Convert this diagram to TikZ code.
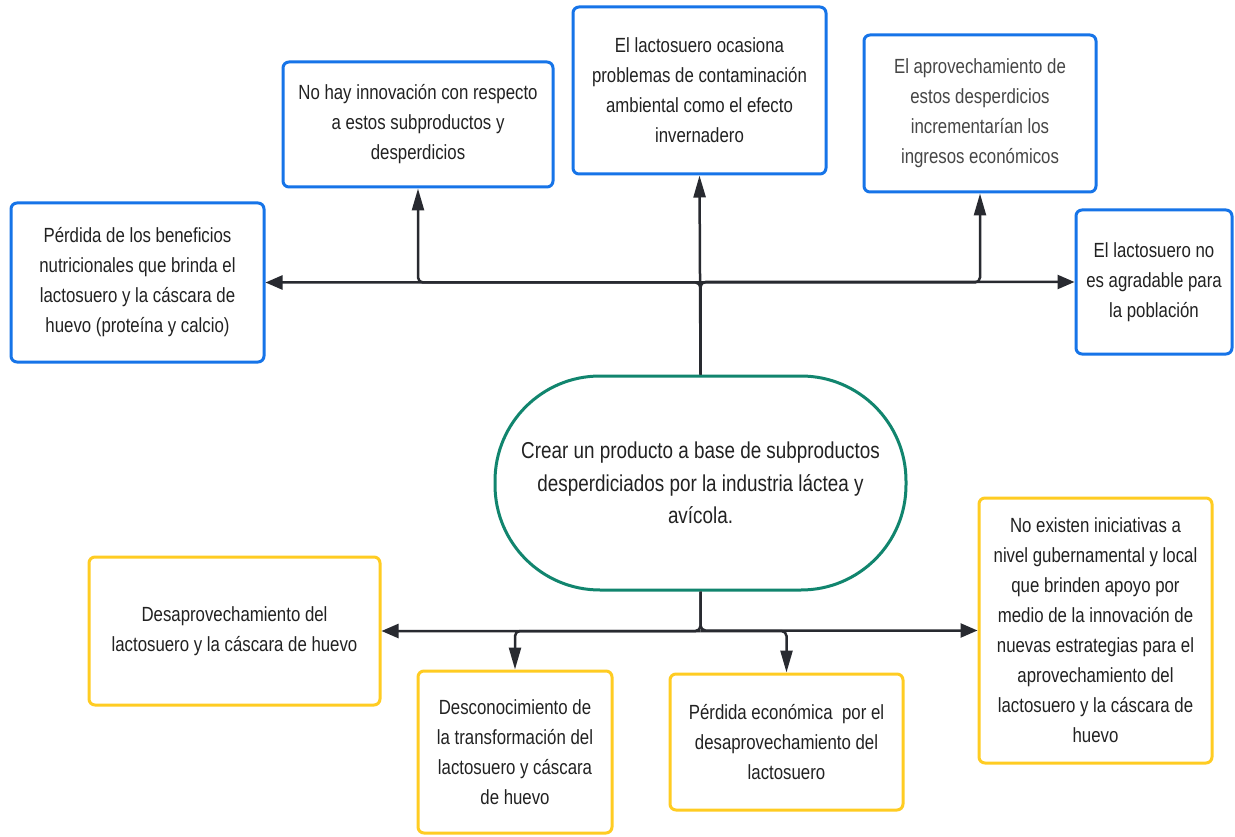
\documentclass[tikz,border=0pt]{standalone}
\usepackage{fontspec}
\setmainfont{Liberation Sans}[FakeStretch=0.82]
\usetikzlibrary{arrows.meta}
\definecolor{bluec}{RGB}{22,116,232}
\definecolor{yelc}{RGB}{255,204,34}
\definecolor{grnc}{RGB}{17,133,110}
\definecolor{linec}{RGB}{40,42,48}
\definecolor{txtc}{RGB}{34,34,34}
\tikzset{
  boxbase/.style={rectangle, line width=3pt, rounded corners=6pt, fill=white, text=txtc, align=center, inner sep=4pt, font=\fontsize{20.5}{30}\selectfont},
  bluebox/.style={boxbase, draw=bluec},
  yelbox/.style={boxbase, draw=yelc},
  mainbox/.style={rectangle, draw=grnc, line width=3pt, rounded corners=105pt, fill=white, text=txtc, align=center, font=\fontsize{23}{32.5}\selectfont},
  conn/.style={draw=linec, line width=2.5pt, rounded corners=5pt},
  varr/.style={conn, -{Triangle[length=22pt,width=12pt]}},
  harr/.style={conn, -{Triangle[length=17pt,width=14pt]}}
}
\begin{document}
\begin{tikzpicture}[x=1pt,y=-1pt]
\path[use as bounding box, fill=white] (0,0) rectangle (1235,837);

\node[mainbox, minimum width=411pt, minimum height=214pt] (ctr) at (700.5,483) {Crear un producto a base de subproductos\\desperdiciados por la industria láctea y\\avícola.};

\node[bluebox, minimum width=270pt, minimum height=125pt] (nohay) at (418,124.5) {No hay innovación con respecto\\a estos subproductos y\\desperdicios};
\node[bluebox, minimum width=253pt, minimum height=167pt] (lacto) at (699.5,90.5) {El lactosuero ocasiona\\problemas de contaminación\\ambiental como el efecto\\invernadero};
\node[bluebox, minimum width=232pt, minimum height=157pt, text={rgb,255:red,70;green,70;blue,70}] (aprov) at (980,113.5) {El aprovechamiento de\\estos desperdicios\\incrementarían los\\ingresos económicos};
\node[bluebox, minimum width=253pt, minimum height=159pt] (perd) at (137.5,282.5) {Pérdida de los beneficios\\nutricionales que brinda el\\lactosuero y la cáscara de\\huevo (proteína y calcio)};
\node[bluebox, minimum width=156pt, minimum height=144pt] (agrad) at (1154,282) {El lactosuero no\\es agradable para\\la población};

\node[yelbox, minimum width=291pt, minimum height=148pt] (desap) at (234.5,631) {Desaprovechamiento del\\lactosuero y la cáscara de huevo};
\node[yelbox, minimum width=194pt, minimum height=162pt] (desco) at (515,752) {Desconocimiento de\\la transformación del\\lactosuero y cáscara\\de huevo};
\node[yelbox, minimum width=233pt, minimum height=136pt] (perec) at (786.5,742) {Pérdida económica~ por el\\desaprovechamiento del\\lactosuero};
\node[yelbox, minimum width=233pt, minimum height=265pt] (noex) at (1095.5,630.5) {No existen iniciativas a\\nivel gubernamental y local\\que brinden apoyo por\\medio de la innovación de\\nuevas estrategias para el\\aprovechamiento del\\lactosuero y la cáscara de\\huevo};

\coordinate (jt) at (ctr.north |- perd.east);
\coordinate (jb) at (ctr.south |- desap.east);

% top connectors
\draw[harr] (ctr.north) |- (perd.east);
\draw[harr] (ctr.north) |- (agrad.west);
\draw[varr] (ctr.north) -- (lacto.south);
\draw[varr] (jt) -| (nohay.south);
\draw[varr] (jt) -| (aprov.south);

% bottom connectors
\draw[harr] (ctr.south) |- (desap.east);
\draw[harr] (ctr.south) |- (noex.west);
\draw[varr] (jb) -| (desco.north);
\draw[varr] (jb) -| (perec.north);
\end{tikzpicture}
\end{document}
